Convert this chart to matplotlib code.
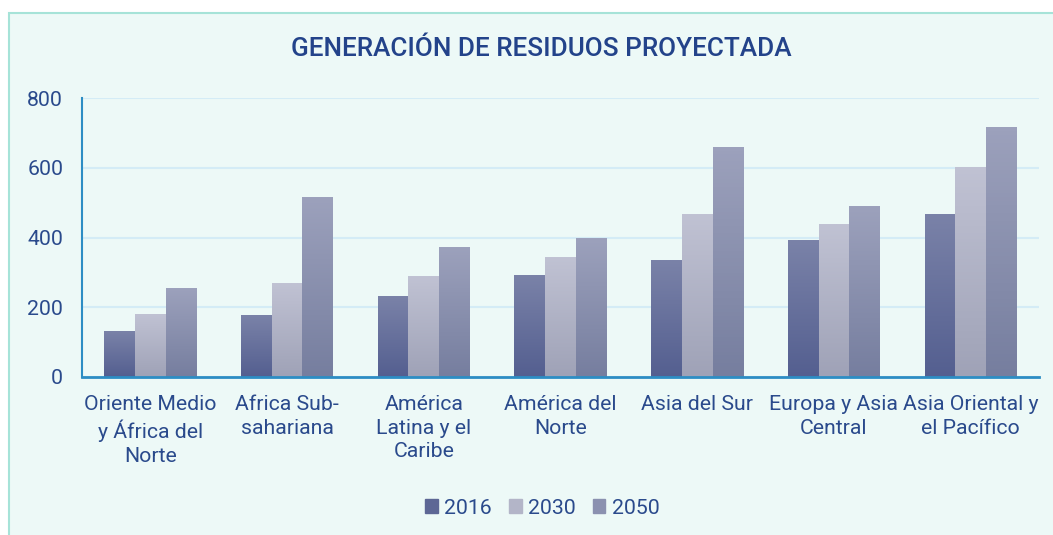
import numpy as np
import matplotlib.pyplot as plt
from matplotlib.patches import Rectangle
from matplotlib.colors import LinearSegmentedColormap

regions = ['Oriente Medio\ny África del\nNorte', 'Africa Sub-\nsahariana',
           'América\nLatina y el\nCaribe', 'América del\nNorte', 'Asia del Sur',
           'Europa y Asia\nCentral', 'Asia Oriental y\nel Pacífico']
years = ['2016', '2030', '2050']
gen_2016 = [130, 175, 231, 290, 335, 392, 467]
gen_2030 = [178, 269, 289, 342, 467, 438, 602]
gen_2050 = [255, 516, 370, 396, 659, 490, 714]

# (top colour, bottom colour) per series
shades = [('#7a82a8', '#545f90'), ('#c0c2d3', '#9fa2b7'), ('#9ca1bc', '#767e9f')]
swatch = ['#5d6795', '#b3b5c8', '#8b91b0']

text_col = '#2a4a8c'
plt.rcParams['font.family'] = ['Roboto', 'DejaVu Sans']

fig = plt.figure(figsize=(10.53, 5.35), dpi=100)
fig.patch.set_facecolor('white')
fig.patches.append(Rectangle((9 / 1053, -0.05), 1.1, 1 - 13 / 535 + 0.05,
                             transform=fig.transFigure, facecolor='#edf9f7',
                             edgecolor='#a6e3d8', linewidth=1.5, zorder=-10))

ax = fig.add_axes([82 / 1053, 1 - 377 / 535, (1039 - 82) / 1053, (377 - 98) / 535])
ax.set_facecolor('none')

x = np.arange(len(regions))
w = 0.225
grad = np.linspace(0, 1, 64).reshape(-1, 1)
for i, vals in enumerate([gen_2016, gen_2030, gen_2050]):
    top, bottom = shades[i]
    cmap = LinearSegmentedColormap.from_list('g%d' % i, [bottom, top])
    bars = ax.bar(x + (i - 1) * w, vals, w, color='none', edgecolor='none',
                  label=years[i], zorder=2)
    for b in bars:
        ax.imshow(grad, cmap=cmap, aspect='auto', origin='lower', zorder=2,
                  extent=(b.get_x(), b.get_x() + b.get_width(), 0, b.get_height()))

ax.set_xlim(-0.5, len(regions) - 0.5)
ax.set_ylim(0, 800)
ax.set_yticks([0, 200, 400, 600, 800])
ax.grid(axis='y', color='#d4ecf6', linewidth=1.5, zorder=0)
ax.set_axisbelow(True)
for s in ['top', 'right']:
    ax.spines[s].set_visible(False)
ax.spines['left'].set_color('#2d8dc4')
ax.spines['bottom'].set_color('#2d8dc4')
ax.spines['left'].set_linewidth(1.5)
ax.spines['bottom'].set_linewidth(2)
ax.tick_params(length=0, labelsize=15.3, labelcolor=text_col)
ax.tick_params(axis='y', pad=13.5)
ax.tick_params(axis='x', pad=13)
ax.set_xticks(x)
ax.set_xticklabels(regions, linespacing=1.3)

fig.text(0.514, 1 - 49 / 535, 'GENERACIÓN DE RESIDUOS PROYECTADA', ha='center',
         va='center', fontsize=18.8, fontweight='medium', color='#23438a')

handles = [Rectangle((0, 0), 1, 1, color=c) for c in swatch]
fig.legend(handles, years, loc='center', bbox_to_anchor=(0.515, 1 - 508 / 535),
           ncol=3, frameon=False, fontsize=15.3, labelcolor=text_col,
           handlelength=0.6, handleheight=0.6, handletextpad=0.3, columnspacing=0.8)

fig.savefig('out.png', dpi=100)
